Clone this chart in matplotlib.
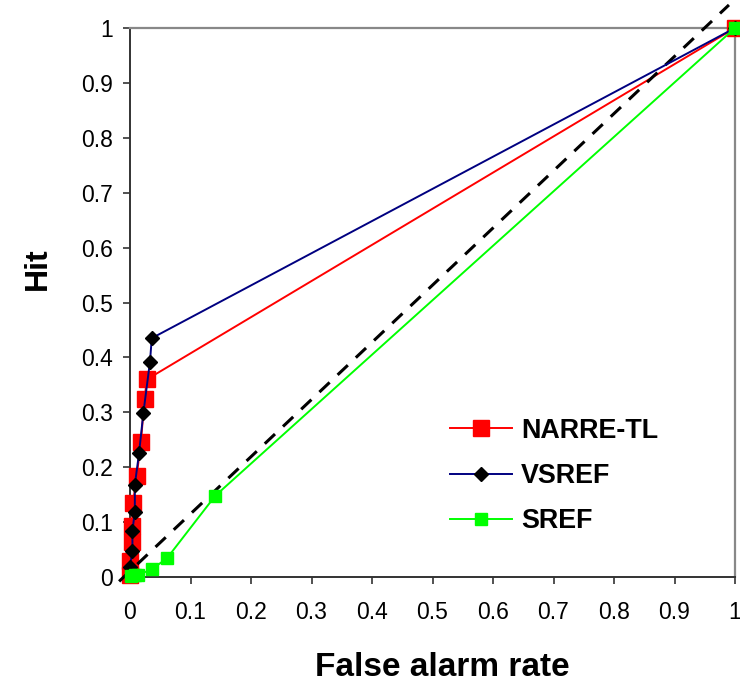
import matplotlib
matplotlib.use("Agg")
import matplotlib.pyplot as plt

plt.rcParams['font.family'] = ['Liberation Sans', 'DejaVu Sans']

# ROC points: false alarm rate (x) vs hit rate (y)
narre_far = [0.0, 0.0, 0.003, 0.003, 0.005, 0.011, 0.018, 0.024, 0.028, 1.0]
narre_hit = [0.004, 0.03, 0.063, 0.092, 0.134, 0.184, 0.245, 0.325, 0.36, 1.0]

vsref_far = [0.0, 0.004, 0.004, 0.008, 0.008, 0.015, 0.022, 0.033, 0.036, 1.0]
vsref_hit = [0.019, 0.048, 0.084, 0.119, 0.168, 0.226, 0.298, 0.392, 0.435, 1.0]

sref_far = [0.002, 0.008, 0.014, 0.036, 0.061, 0.141, 1.0]
sref_hit = [0.002, 0.003, 0.004, 0.014, 0.034, 0.148, 1.0]

# no-skill reference line
ref_x = [-0.018, 0.99]
ref_y = [-0.008, 1.042]

tick_vals = [0, 0.1, 0.2, 0.3, 0.4, 0.5, 0.6, 0.7, 0.8, 0.9, 1]
tick_labels = ["0", "0.1", "0.2", "0.3", "0.4", "0.5", "0.6", "0.7", "0.8", "0.9", "1"]

fig = plt.figure(figsize=(7.4, 6.82), dpi=100)
ax = fig.add_axes([130 / 740, 1 - 577 / 682, 605 / 740, 549 / 682])

ax.plot(narre_far, narre_hit, color='#FF0000', lw=1.4, marker='s', ms=11.5,
        mfc='#FF0000', mec='#FF0000', label='NARRE-TL', clip_on=False, zorder=3)
ax.plot(vsref_far, vsref_hit, color='#000080', lw=1.4, marker='D', ms=7.4,
        mfc='black', mec='black', label='VSREF', clip_on=False, zorder=4)
ax.plot(sref_far, sref_hit, color='#00FF00', lw=1.4, marker='s', ms=9.2,
        mfc='#00FF00', mec='#00FF00', label='SREF', clip_on=False, zorder=5)
ax.plot(ref_x, ref_y, color='black', lw=2.2, linestyle=(0, (4.6, 3.6)),
        clip_on=False, zorder=3.5)

ax.set_xlim(0, 1)
ax.set_ylim(0, 1)
ax.set_xticks(tick_vals)
ax.set_xticklabels(tick_labels)
ax.set_yticks(tick_vals)
ax.set_yticklabels(tick_labels)

for side in ['left', 'bottom']:
    ax.spines[side].set_color('#333333')
    ax.spines[side].set_linewidth(1.4)
for side in ['top', 'right']:
    ax.spines[side].set_color('#888888')
    ax.spines[side].set_linewidth(1.6)

ax.tick_params(axis='both', direction='out', length=5, width=1.2,
               color='#333333', labelsize=16.5)
ax.tick_params(axis='x', pad=12)
ax.tick_params(axis='y', pad=7)

fig.text(37.5 / 740, 1 - 268.5 / 682, 'Hit', rotation=90, ha='center',
         va='center', fontsize=23, fontweight='bold')
fig.text(442 / 740, 1 - 676 / 682, 'False alarm rate', ha='center',
         va='baseline', fontsize=24, fontweight='bold')

leg = ax.legend(loc='center left', bbox_to_anchor=(450 / 740, 1 - 476 / 682),
                bbox_transform=fig.transFigure, frameon=False, borderpad=0,
                borderaxespad=0, handlelength=2.3, handletextpad=0.33,
                labelspacing=0.72, prop={'size': 19.4, 'weight': 'bold'})

fig.savefig('out.png', dpi=100)
